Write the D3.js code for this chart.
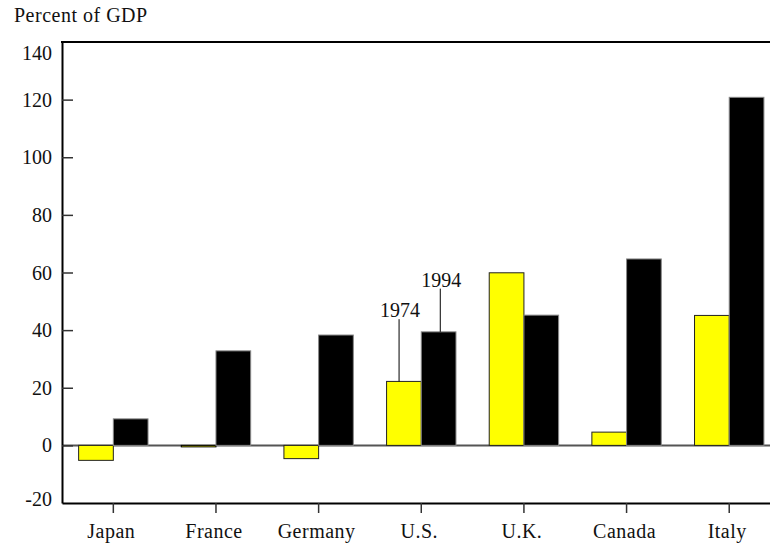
<!DOCTYPE html>
<html>
<head>
<meta charset="utf-8">
<script src="https://cdn.jsdelivr.net/npm/d3@7"></script>
<style>
  html, body { margin: 0; padding: 0; background: #fff; }
  svg { display: block; }
  text { font-family: "Liberation Serif", "Times New Roman", serif; fill: #111; }
</style>
</head>
<body>
<svg id="chart" width="770" height="544"></svg>
<script>
// ---- data ----
const countries = ["Japan", "France", "Germany", "U.S.", "U.K.", "Canada", "Italy"];
const series = ["1974", "1994"];
const values1974 = [-5.2, -0.4, -4.6, 22.2, 59.9, 4.6, 45.1];
const values1994 = [9.2, 32.8, 38.3, 39.4, 45.2, 64.7, 120.8];
const yTicks = [-20, 0, 20, 40, 60, 80, 100, 120, 140];
const annotations = [
  { label: "1974", series: "1974", country: "U.S.", top: 43.8 },
  { label: "1994", series: "1994", country: "U.S.", top: 54.4 }
];
const yTitle = "Percent of GDP";
const colors = { "1974": "#ffff00", "1994": "#000000" };
const strokes = { "1974": "#222", "1994": "#888" };

// ---- layout ----
const svg = d3.select("#chart");
const mLeft = 62, mTop = 42, mBottom = 503, step = 102.65;
const mRight = mLeft + step * countries.length;
const FS = 20;

const x = d3.scaleBand().domain(countries).range([mLeft, mRight]).padding(0);
const xs = d3.scaleBand().domain(series).range([x.bandwidth() / 2 - 34.7, x.bandwidth() / 2 + 34.7]).padding(0);
const y = d3.scaleLinear().domain([-20, 140]).range([mBottom, mTop]);

const rows = countries.map((c, i) => ({ country: c, "1974": values1974[i], "1994": values1994[i] }));

// title
svg.append("text").attr("x", 14).attr("y", 22).attr("font-size", FS)
  .attr("letter-spacing", 0.5).text(yTitle);

// zero line
svg.append("line")
  .attr("x1", mLeft).attr("x2", mRight)
  .attr("y1", y(0)).attr("y2", y(0))
  .attr("stroke", "#555").attr("stroke-width", 2);

// bars
const g = svg.append("g");
rows.forEach(r => {
  series.forEach(s => {
    const v = r[s];
    g.append("rect")
      .attr("x", x(r.country) + xs(s))
      .attr("width", xs.bandwidth())
      .attr("y", y(Math.max(0, v)))
      .attr("height", Math.max(Math.abs(y(v) - y(0)), 1.5))
      .attr("fill", colors[s])
      .attr("stroke", Math.abs(v) < 1 ? "#000" : strokes[s])
      .attr("stroke-width", 1);
  });
});

// annotations
annotations.forEach(a => {
  const r = rows.find(d => d.country === a.country);
  const xx = x(a.country) + xs(a.series) + (a.series === "1974" ? 12.5 : 19);
  svg.append("line")
    .attr("x1", xx).attr("x2", xx)
    .attr("y1", y(a.top)).attr("y2", y(r[a.series]))
    .attr("stroke", "#000").attr("stroke-width", 1);
  svg.append("text")
    .attr("x", xx + 1).attr("y", y(a.top) - 2)
    .attr("text-anchor", "middle").attr("font-size", FS)
    .text(a.label);
});

// y axis (ticks inward)
const yAxis = svg.append("g")
  .attr("transform", `translate(${mLeft},0)`)
  .call(d3.axisLeft(y).tickValues(yTicks).tickFormat(d => String(d))
    .tickSizeInner(-11).tickSizeOuter(0).tickPadding(10));
yAxis.select(".domain").attr("stroke", "#000").attr("stroke-width", 2);
yAxis.selectAll(".tick line").attr("stroke", "#333").attr("stroke-width", 1.5)
  .attr("display", d => (d === 140 || d === -20) ? "none" : null);
yAxis.selectAll(".tick text")
  .attr("font-size", FS).attr("font-family", "Liberation Serif, serif").attr("fill", "#111")
  .attr("dy", d => d === 140 ? "0.85em" : d === -20 ? "0.12em" : "0.33em");

// x axis (ticks outward)
const xAxis = svg.append("g")
  .attr("transform", `translate(0,${mBottom})`)
  .call(d3.axisBottom(x).tickSizeInner(10).tickSizeOuter(0).tickPadding(0));
xAxis.select(".domain").attr("stroke", "#000").attr("stroke-width", 2);
xAxis.selectAll(".tick line").attr("stroke", "#333").attr("stroke-width", 1.5);
xAxis.selectAll(".tick text")
  .attr("font-size", FS).attr("font-family", "Liberation Serif, serif").attr("fill", "#111")
  .attr("letter-spacing", 0.5)
  .attr("y", 35).attr("dy", 0).attr("dx", -2);

// top frame line
svg.append("line")
  .attr("x1", mLeft - 1).attr("x2", mRight)
  .attr("y1", mTop).attr("y2", mTop)
  .attr("stroke", "#000").attr("stroke-width", 2);
</script>
</body>
</html>
